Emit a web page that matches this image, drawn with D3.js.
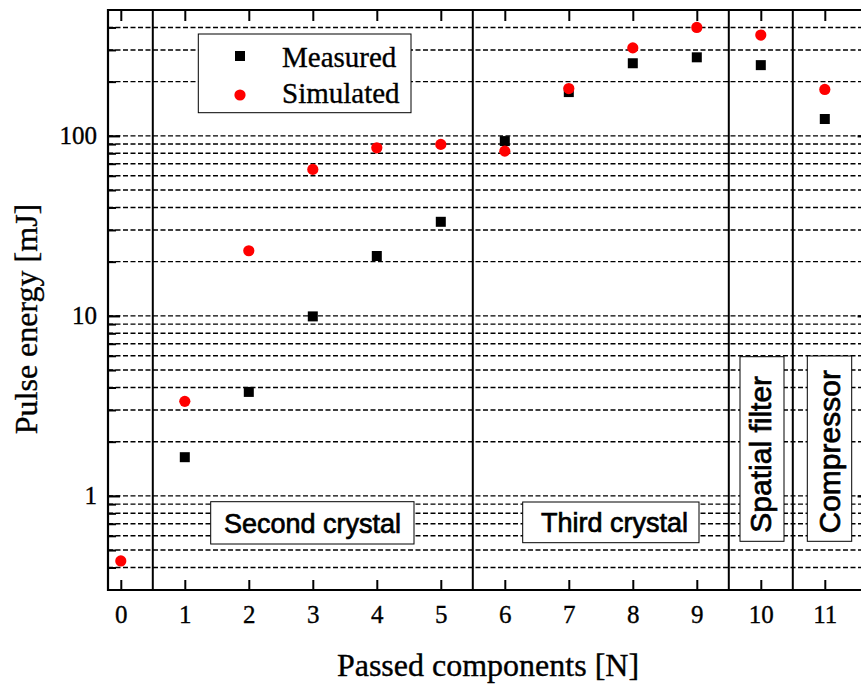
<!DOCTYPE html>
<html>
<head>
<meta charset="utf-8">
<script src="https://cdn.jsdelivr.net/npm/d3@7"></script>
<style>
  html, body { margin: 0; padding: 0; background: #fff; }
  svg { display: block; }
</style>
</head>
<body>
<svg id="chart" width="861" height="684"></svg>
<script>
// ---- Data ----
const components = [0, 1, 2, 3, 4, 5, 6, 7, 8, 9, 10, 11];
const measured   = [null, 1.64, 3.78, 9.93, 21.5, 33.3, 93.5, 175, 253, 273, 247, 124];
const simulated  = [0.435, 3.35, 23.0, 65.1, 85.8, 89.6, 82.2, 183, 308, 400, 363, 181];
const xTickValues = [0, 1, 2, 3, 4, 5, 6, 7, 8, 9, 10, 11];
const yMajorTicks = [1, 10, 100];
const yLabels = ["1", "10", "100"];
const separators = [0.5, 5.5, 9.5, 10.5];
const sectionLabels = ["Second crystal", "Third crystal", "Spatial filter", "Compressor"];
const legendLabels = ["Measured", "Simulated"];

// ---- Layout ----
const svg = d3.select("#chart");
const L = 108, T = 10, B = 590, R = 869.6;
const x = d3.scaleLinear().domain([-0.2, 11.7]).range([L, R]);
const y = d3.scaleLog().domain([0.3, 500]).range([B, T]);

const serif = "'Liberation Serif', 'Times New Roman', Times, serif";
const sans = "'Liberation Sans', Arial, Helvetica, sans-serif";
const serifStroke = 0.35;

// grid values (2..9 per decade)
const gridVals = [];
[0.1, 1, 10, 100].forEach(d => {
  for (let k = 1; k <= 9; k++) {
    const v = +(d * k).toPrecision(3);
    if (v > 0.3 && v < 500) gridVals.push(v);
  }
});

// dashed grid
svg.append("g").selectAll("line").data(gridVals).join("line")
  .attr("x1", L).attr("x2", R)
  .attr("y1", d => y(d)).attr("y2", d => y(d))
  .attr("stroke", "#000").attr("stroke-width", 1.4)
  .attr("stroke-dasharray", "5,2.5");

// separators
svg.append("g").selectAll("line").data(separators).join("line")
  .attr("x1", d => x(d)).attr("x2", d => x(d))
  .attr("y1", T).attr("y2", B)
  .attr("stroke", "#000").attr("stroke-width", 2);

// section label boxes
const hBoxes = [
  {text: sectionLabels[0], x0: 210.7, x1: 414, y0: 501.7, y1: 544, tx: 312.5, ty: 533},
  {text: sectionLabels[1], x0: 522.7, x1: 699, y0: 502, y1: 542.7, tx: 614.5, ty: 532}
];
const vBoxes = [
  {text: sectionLabels[2], x0: 740, x1: 784, y0: 356.7, y1: 541.3, tx: 771, ty: 454.3},
  {text: sectionLabels[3], x0: 807.3, x1: 851.7, y0: 356, y1: 541.3, tx: 839.5, ty: 451.8}
];
const boxG = svg.append("g");
[...hBoxes, ...vBoxes].forEach(b => {
  boxG.append("rect")
    .attr("x", b.x0).attr("y", b.y0)
    .attr("width", b.x1 - b.x0).attr("height", b.y1 - b.y0)
    .attr("fill", "#fff").attr("stroke", "#000").attr("stroke-width", 1);
});
hBoxes.forEach(b => {
  boxG.append("text").attr("x", b.tx).attr("y", b.ty)
    .attr("text-anchor", "middle")
    .attr("font-family", sans).attr("font-size", 27)
    .attr("stroke", "#000").attr("stroke-width", 0.7)
    .text(b.text);
});
vBoxes.forEach(b => {
  boxG.append("text")
    .attr("transform", `translate(${b.tx},${b.ty}) rotate(-90)`)
    .attr("text-anchor", "middle")
    .attr("font-family", sans).attr("font-size", 30)
    .attr("stroke", "#000").attr("stroke-width", 0.7)
    .text(b.text);
});

// data points
const mPts = components.map((c, i) => ({c, v: measured[i]})).filter(d => d.v != null);
const sPts = components.map((c, i) => ({c, v: simulated[i]})).filter(d => d.v != null);
const sq = 10;
svg.append("g").selectAll("rect").data(mPts).join("rect")
  .attr("x", d => x(d.c) - sq / 2).attr("y", d => y(d.v) - sq / 2)
  .attr("width", sq).attr("height", sq).attr("fill", "#000");
svg.append("g").selectAll("circle").data(sPts).join("circle")
  .attr("cx", d => x(d.c)).attr("cy", d => y(d.v)).attr("r", 5.6)
  .attr("fill", "#ff0000");

// legend
const lg = svg.append("g");
lg.append("rect").attr("x", 198.3).attr("y", 34).attr("width", 212.7).attr("height", 78.7)
  .attr("fill", "#fff").attr("stroke", "#000").attr("stroke-width", 1);
lg.append("rect").attr("x", 240 - sq / 2).attr("y", 56 - sq / 2).attr("width", sq).attr("height", sq).attr("fill", "#000");
lg.append("circle").attr("cx", 240).attr("cy", 95).attr("r", 5.6).attr("fill", "#ff0000");
lg.append("text").attr("x", 282).attr("y", 66.5).attr("font-family", serif).attr("font-size", 29)
  .attr("stroke", "#000").attr("stroke-width", serifStroke).text(legendLabels[0]);
lg.append("text").attr("x", 282).attr("y", 103).attr("font-family", serif).attr("font-size", 29)
  .attr("stroke", "#000").attr("stroke-width", serifStroke).text(legendLabels[1]);

// axes
const ax = svg.append("g");
// bottom
ax.append("g").attr("transform", `translate(0,${B})`)
  .call(d3.axisBottom(x).tickValues(xTickValues).tickSize(-10).tickPadding(14).tickFormat(d3.format("d")))
  .call(g => {
    g.select(".domain").remove();
    g.selectAll(".tick line").attr("stroke-width", 2);
    g.selectAll(".tick text").attr("font-family", serif).attr("font-size", 25).attr("fill", "#000")
      .attr("stroke", "#000").attr("stroke-width", serifStroke)
      .attr("dy", null).attr("y", 33);
  });
// top
ax.append("g").attr("transform", `translate(0,${T})`)
  .call(d3.axisTop(x).tickValues(xTickValues).tickSize(-11).tickFormat(""))
  .call(g => { g.select(".domain").remove(); g.selectAll(".tick line").attr("stroke-width", 2); });
// left major / minor
const minorVals = gridVals.filter(v => !yMajorTicks.includes(v));
ax.append("g").attr("transform", `translate(${L},0)`)
  .call(d3.axisLeft(y).tickValues(yMajorTicks).tickSize(-12).tickPadding(0).tickFormat((d, i) => yLabels[i]))
  .call(g => {
    g.select(".domain").remove();
    g.selectAll(".tick line").attr("stroke-width", 2.2);
    g.selectAll(".tick text").attr("font-family", serif).attr("font-size", 25).attr("fill", "#000")
      .attr("stroke", "#000").attr("stroke-width", serifStroke)
      .attr("x", -11).attr("dy", "0.31em");
  });
ax.append("g").attr("transform", `translate(${L},0)`)
  .call(d3.axisLeft(y).tickValues(minorVals).tickSize(-8).tickFormat(""))
  .call(g => { g.select(".domain").remove(); g.selectAll(".tick line").attr("stroke-width", 2); });
// right
ax.append("g").attr("transform", `translate(${R},0)`)
  .call(d3.axisRight(y).tickValues(yMajorTicks).tickSize(-12).tickFormat(""))
  .call(g => { g.select(".domain").remove(); g.selectAll(".tick line").attr("stroke-width", 2.2); });

// frame lines
ax.append("line").attr("x1", L).attr("x2", L).attr("y1", T - 1).attr("y2", B + 1).attr("stroke", "#000").attr("stroke-width", 2.2);
ax.append("line").attr("x1", L - 1).attr("x2", R).attr("y1", B).attr("y2", B).attr("stroke", "#000").attr("stroke-width", 2.2);
ax.append("line").attr("x1", L - 1).attr("x2", R).attr("y1", T).attr("y2", T).attr("stroke", "#000").attr("stroke-width", 2.2);
ax.append("line").attr("x1", R).attr("x2", R).attr("y1", T).attr("y2", B).attr("stroke", "#000").attr("stroke-width", 2.2);

// axis titles
svg.append("text").attr("x", 488).attr("y", 676).attr("text-anchor", "middle")
  .attr("font-family", serif).attr("font-size", 32)
  .attr("stroke", "#000").attr("stroke-width", serifStroke).text("Passed components [N]");
svg.append("text").attr("transform", "translate(37,319) rotate(-90)").attr("text-anchor", "middle")
  .attr("font-family", serif).attr("font-size", 32)
  .attr("stroke", "#000").attr("stroke-width", serifStroke).text("Pulse energy [mJ]");
</script>
</body>
</html>
